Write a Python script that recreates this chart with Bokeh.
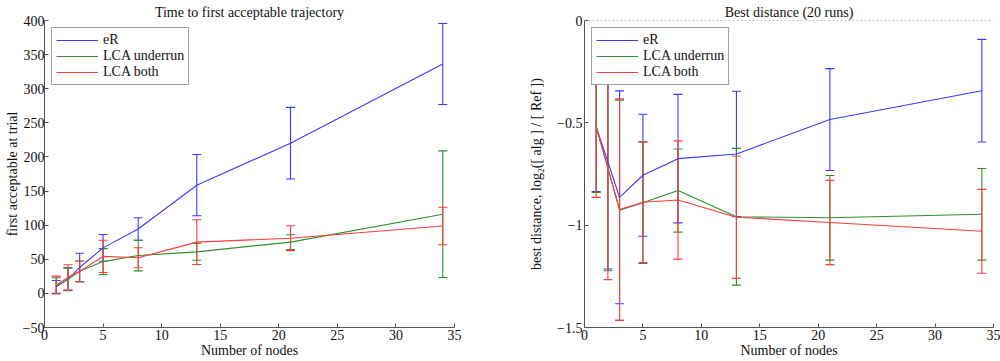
from bokeh.plotting import figure
from bokeh.layouts import row
from bokeh.models import (ColumnDataSource, Whisker, TeeHead, Legend, LegendItem,
                          Span, FixedTicker, Range1d)
from bokeh.embed import file_html
from bokeh.resources import INLINE

# ---------------- data ----------------
nodes = [1, 2, 3, 5, 8, 13, 21, 34]
series_names = ["eR", "LCA underrun", "LCA both"]

# left panel: first acceptable at trial (mean, +/- error)
er_time = [9.5, 21, 37.9, 66.7, 94.4, 158.6, 220.1, 336.2]
er_time_err = [9.5, 16.5, 20.9, 19.7, 16.4, 44.9, 52.5, 59.3]
under_time = [11.2, 20.5, 32.3, 46.6, 55.5, 60.9, 75.2, 116.1]
under_time_err = [11.7, 16.5, 15.2, 19.0, 22.5, 12.4, 10.8, 92.8]
both_time = [12.4, 23.5, 32.3, 54.2, 52.3, 75.1, 80.9, 98.8]
both_time_err = [12.9, 18.5, 15.2, 23.6, 14.7, 32.8, 18.2, 27.4]

# right panel: best distance, log2 ratio (mean, +/- error)
er_dist = [-0.52, -0.69, -0.864, -0.756, -0.675, -0.652, -0.484, -0.343]
er_dist_err = [0.316, 0.524, 0.52, 0.298, 0.314, 0.306, 0.249, 0.251]
under_dist = [-0.52, -0.72, -0.927, -0.89, -0.831, -0.959, -0.964, -0.947]
under_dist_err = [0.32, 0.503, 0.538, 0.297, 0.203, 0.334, 0.207, 0.224]
both_dist = [-0.52, -0.72, -0.924, -0.888, -0.877, -0.961, -0.987, -1.03]
both_dist_err = [0.344, 0.546, 0.541, 0.295, 0.289, 0.299, 0.206, 0.205]

left_yticks = [-50, 0, 50, 100, 150, 200, 250, 300, 350, 400]
right_yticks = [-1.5, -1.0, -0.5, 0.0]
xticks = [0, 5, 10, 15, 20, 25, 30, 35]

# ---------------- style ----------------
FONT = "Liberation Serif"
FS = "14px"
colors = ["#3a3aff", "#2f8f2f", "#ff3b3b"]
AX = "#555555"
HEIGHT = 360


def make_fig(width, left_border, right_border, y0, y1, yticks, ylabel, title,
             series, tick_over, ylabel_standoff, tick_standoff):
    p = figure(width=width, height=HEIGHT, x_range=Range1d(0, 35),
               y_range=Range1d(y0, y1), output_backend="svg",
               toolbar_location=None, tools="", title=title)
    p.min_border_left = left_border
    p.min_border_right = right_border
    p.min_border_top = 20
    p.min_border_bottom = 0
    p.outline_line_color = None
    p.grid.visible = False
    p.background_fill_color = "white"
    p.border_fill_color = "white"

    p.title.align = "center"
    p.title.text_font = FONT
    p.title.text_font_size = FS
    p.title.text_font_style = "normal"
    p.title.text_color = "#111111"
    p.title.standoff = 2
    p.title.offset = 0

    for ax in (p.xaxis[0], p.yaxis[0]):
        ax.axis_line_color = AX
        ax.major_tick_line_color = AX
        ax.major_tick_in = 4
        ax.major_tick_out = 0
        ax.minor_tick_line_color = None
        ax.major_label_text_font = FONT
        ax.major_label_text_font_size = FS
        ax.major_label_text_color = "#111111"
        ax.axis_label_text_font = FONT
        ax.axis_label_text_font_size = FS
        ax.axis_label_text_font_style = "normal"
        ax.axis_label_text_color = "#111111"
        ax.major_label_standoff = 2
        ax.axis_label_standoff = 0

    p.xaxis[0].ticker = FixedTicker(ticks=xticks)
    p.xaxis[0].axis_label = "Number of nodes"
    p.yaxis[0].ticker = FixedTicker(ticks=yticks)
    p.yaxis[0].axis_label = ylabel
    p.yaxis[0].axis_label_standoff = ylabel_standoff
    p.yaxis[0].major_label_standoff = tick_standoff
    p.yaxis[0].major_label_overrides = tick_over

    items = []
    for (name, vals, errs), c in zip(series, colors):
        src = ColumnDataSource(dict(
            x=nodes, y=vals,
            upper=[v + e for v, e in zip(vals, errs)],
            lower=[v - e for v, e in zip(vals, errs)]))
        r = p.line("x", "y", source=src, line_color=c, line_width=1.1)
        w = Whisker(source=src, base="x", upper="upper", lower="lower",
                    dimension="height", line_color=c, line_width=1.1,
                    upper_head=TeeHead(size=9, line_color=c, line_width=1.1),
                    lower_head=TeeHead(size=9, line_color=c, line_width=1.1))
        p.add_layout(w)
        items.append(LegendItem(label=name, renderers=[r]))

    legend = Legend(items=items, location="top_left")
    legend.margin = 7
    legend.padding = 4
    legend.spacing = 0
    legend.glyph_width = 42
    legend.glyph_height = 16
    legend.label_height = 16
    legend.label_standoff = 5
    legend.label_text_font = FONT
    legend.label_text_font_size = FS
    legend.label_text_color = "#111111"
    legend.border_line_color = "#444444"
    legend.border_line_width = 1
    legend.background_fill_color = "white"
    legend.background_fill_alpha = 1.0
    p.add_layout(legend)
    return p


p1 = make_fig(520, 44, 66, -50, 400, left_yticks, "first acceptable at trial",
              "Time to first acceptable trajectory",
              [(series_names[0], er_time, er_time_err),
               (series_names[1], under_time, under_time_err),
               (series_names[2], both_time, both_time_err)],
              {-50: "\u221250"}, 0, 0)

p2 = make_fig(480, 64, 7, -1.5, 0.0, right_yticks,
              "best distance, log\u2082([ alg ] / [ Ref ])",
              "Best distance (20 runs)",
              [(series_names[0], er_dist, er_dist_err),
               (series_names[1], under_dist, under_dist_err),
               (series_names[2], both_dist, both_dist_err)],
              {-1.5: "\u22121.5", -1.0: "\u22121", -0.5: "\u22120.5", 0.0: "0"}, 10, 2)
p2.add_layout(Span(location=0.0, dimension="width", line_color="#888888",
                   line_dash="2 2", line_width=1))

layout = row(p1, p2)
open("out.html", "w").write(file_html(layout, INLINE))
